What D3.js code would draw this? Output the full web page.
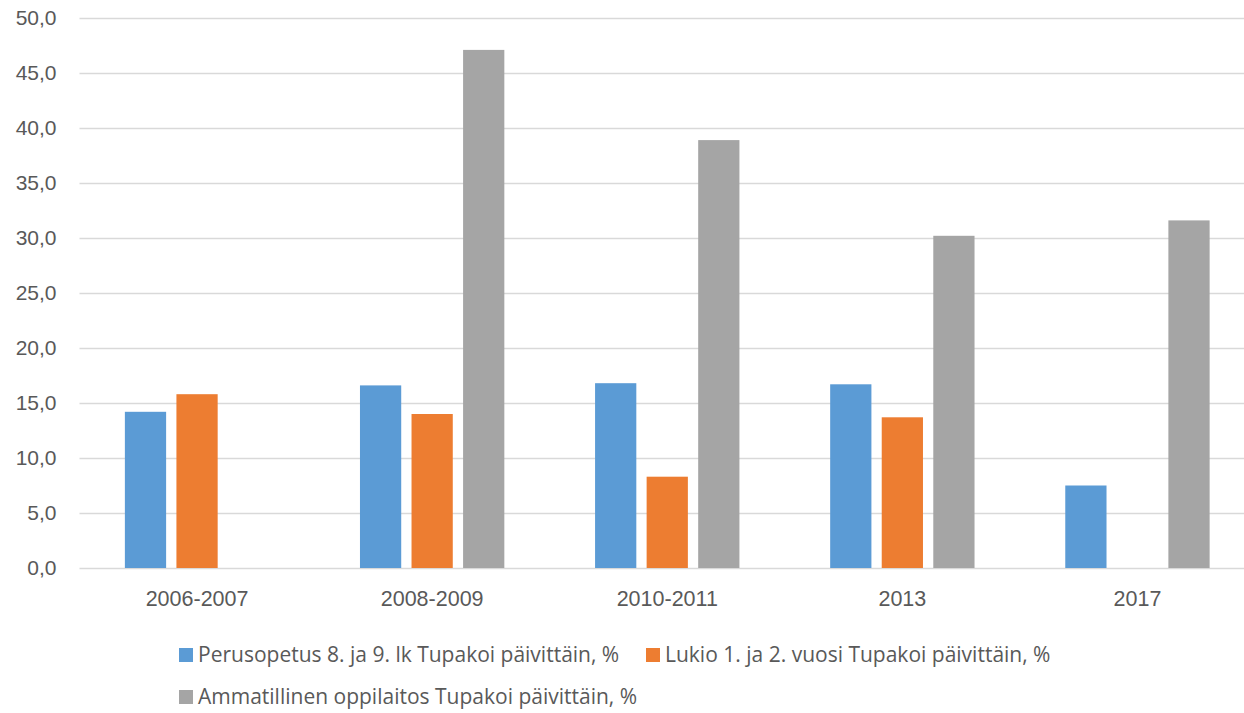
<!DOCTYPE html>
<html>
<head>
<meta charset="utf-8">
<script src="https://cdn.jsdelivr.net/npm/d3@7"></script>
<style>
  body { margin: 0; background: #fff; }
  svg { display: block; font-family: "Open Sans", "Noto Sans", sans-serif; }
</style>
</head>
<body>
<svg id="chart"></svg>
<script>
const years = ["2006-2007", "2008-2009", "2010-2011", "2013", "2017"];
const seriesNames = [
  "Perusopetus 8. ja 9. lk Tupakoi päivittäin, %",
  "Lukio 1. ja 2. vuosi Tupakoi päivittäin, %",
  "Ammatillinen oppilaitos Tupakoi päivittäin, %"
];
const perusopetus = [14.2, 16.6, 16.8, 16.7, 7.5];
const lukio = [15.8, 14.0, 8.3, 13.7, null];
const ammatillinen = [null, 47.1, 38.9, 30.2, 31.6];
const yTicks = [0, 5, 10, 15, 20, 25, 30, 35, 40, 45, 50];
const colors = ["#5B9BD5", "#ED7D31", "#A5A5A5"];

const width = 1244, height = 713;
const marginLeft = 79.5, marginTop = 18, plotBottom = 568;
const groupW = 235.1;

const svg = d3.select("#chart")
    .attr("width", width)
    .attr("height", height)
    .attr("viewBox", [0, 0, width, height]);

const values = [perusopetus, lukio, ammatillinen];

const x = d3.scaleBand(years, [marginLeft, marginLeft + groupW * years.length])
    .paddingInner(0).paddingOuter(0);
const xInner = d3.scaleBand(d3.range(3), [0, x.bandwidth()])
    .paddingInner(0.2).paddingOuter(0.88);
const y = d3.scaleLinear([0, 50], [plotBottom, marginTop]);

// gridlines + y labels
const yAxis = d3.axisLeft(y)
    .tickValues(yTicks)
    .tickFormat(d => d3.format(".1f")(d).replace(".", ","))
    .tickSize(0)
    .tickPadding(23);

svg.append("g")
    .attr("transform", `translate(${marginLeft},0)`)
    .call(yAxis)
    .call(g => g.select(".domain").remove())
    .call(g => g.selectAll(".tick line").clone()
        .attr("x2", width - marginLeft)
        .attr("stroke", "#D9D9D9")
        .attr("stroke-width", 1.3))
    .call(g => g.selectAll(".tick text")
        .attr("fill", "#595959")
        .style("font-size", "21px"));

// bars
const rows = [];
years.forEach((yr, i) => values.forEach((s, k) => {
  if (s[i] != null) rows.push({yr, k, v: s[i]});
}));

svg.append("g")
  .selectAll("rect")
  .data(rows)
  .join("rect")
    .attr("x", d => x(d.yr) + xInner(d.k))
    .attr("y", d => y(d.v))
    .attr("width", xInner.bandwidth())
    .attr("height", d => y(0) - y(d.v))
    .attr("fill", d => colors[d.k]);

// x axis labels
const xAxis = d3.axisBottom(x).tickSize(0).tickPadding(23);
svg.append("g")
    .attr("transform", `translate(0,${plotBottom})`)
    .call(xAxis)
    .call(g => g.select(".domain").remove())
    .call(g => g.selectAll(".tick text")
        .attr("fill", "#595959")
        .style("font-size", "21.5px"));

// legend
const legendPos = [[179, 655], [646, 655], [179, 697]];
const legend = svg.append("g")
  .selectAll("g")
  .data(seriesNames)
  .join("g")
    .attr("transform", (d, i) => `translate(${legendPos[i][0]},${legendPos[i][1]})`);

legend.append("rect")
    .attr("x", 0)
    .attr("y", -7)
    .attr("width", 14)
    .attr("height", 14)
    .attr("fill", (d, i) => colors[i]);

legend.append("text")
    .attr("x", 19)
    .attr("y", 0)
    .attr("dy", "0.35em")
    .attr("fill", "#595959")
    .style("font-size", "21px")
    .text(d => d);
</script>
</body>
</html>
